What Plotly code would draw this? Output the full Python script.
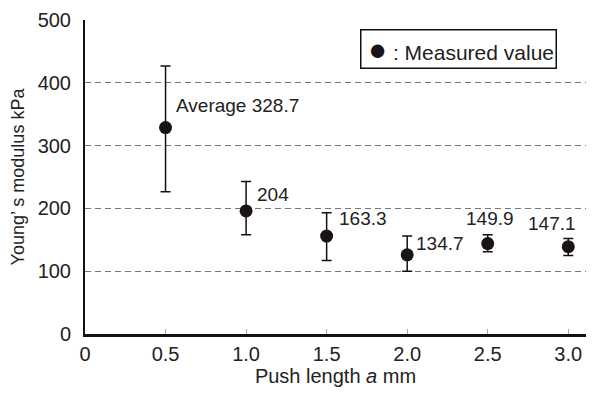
import plotly.graph_objects as go

push_length = [0.5, 1.0, 1.5, 2.0, 2.5, 3.0]
modulus = [328.7, 196, 156, 126, 144, 139]
err_plus = [98, 47, 37, 30, 14, 13]
err_minus = [102, 38, 39, 26, 13, 14]
labels = ["Average 328.7", "204", "163.3", "134.7", "149.9", "147.1"]
x_ticks = [0, 0.5, 1.0, 1.5, 2.0, 2.5, 3.0]
x_ticktext = ["0", "0.5", "1.0", "1.5", "2.0", "2.5", "3.0"]
y_ticks = [0, 100, 200, 300, 400, 500]
legend_text = ": Measured value"

FONT = "Liberation Sans, Arial, sans-serif"
TXT = "#222222"

fig = go.Figure()
fig.add_trace(go.Scatter(
    x=push_length, y=modulus, mode="markers",
    name=legend_text, showlegend=False,
    marker=dict(color="#1a1414", size=13),
    error_y=dict(type="data", symmetric=False, array=err_plus, arrayminus=err_minus,
                 color="#111111", thickness=1.5, width=5),
))

# label placement (style only): y in data units, x pixel shift, anchor
label_pos = [
    (364, 8, "left"),
    (222, 9, "left"),
    (184, 10, "left"),
    (144, 7, "left"),
    (184, 2, "center"),
    (176, -16, "center"),
]
for xv, txt, (yv, xs, anc) in zip(push_length, labels, label_pos):
    fig.add_annotation(x=xv, y=yv, text=txt, showarrow=False, xanchor=anc,
                       yanchor="middle", xshift=xs,
                       font=dict(family=FONT, size=19, color=TXT))

# legend box
fig.add_annotation(
    xref="paper", yref="paper", x=0.549, y=0.972, xanchor="left", yanchor="top",
    text="&nbsp;<span style='font-size:31px;color:#1a1414'>●</span> " + legend_text,
    showarrow=False, align="left",
    font=dict(family=FONT, size=21, color=TXT),
    bordercolor="#111111", borderwidth=1.5, borderpad=1, bgcolor="white",
)

fig.update_layout(
    width=595, height=394,
    margin=dict(l=85, r=9, t=16, b=59),
    paper_bgcolor="white", plot_bgcolor="white",
    font=dict(family=FONT, size=20, color=TXT),
    showlegend=False,
    xaxis=dict(range=[0, 3.11], tickvals=x_ticks, ticktext=x_ticktext,
               showgrid=False, zeroline=False,
               showline=True, linecolor="#111111", linewidth=2.5,
               ticks="inside", ticklen=5, tickcolor="#aaaaaa", tickwidth=1,
               title=dict(text="Push length <i>a</i> mm", font=dict(size=20), standoff=6),
               tickfont=dict(size=20)),
    yaxis=dict(range=[0, 500], tickvals=y_ticks,
               showgrid=True, gridcolor="#777777", gridwidth=1, griddash="6px,4px",
               zeroline=False,
               showline=True, linecolor="#111111", linewidth=2,
               ticks="", ticklabelstandoff=8,
               title=dict(text="Young’ s modulus kPa", font=dict(size=18), standoff=8),
               tickfont=dict(size=20)),
)

fig.write_html("out.html")
